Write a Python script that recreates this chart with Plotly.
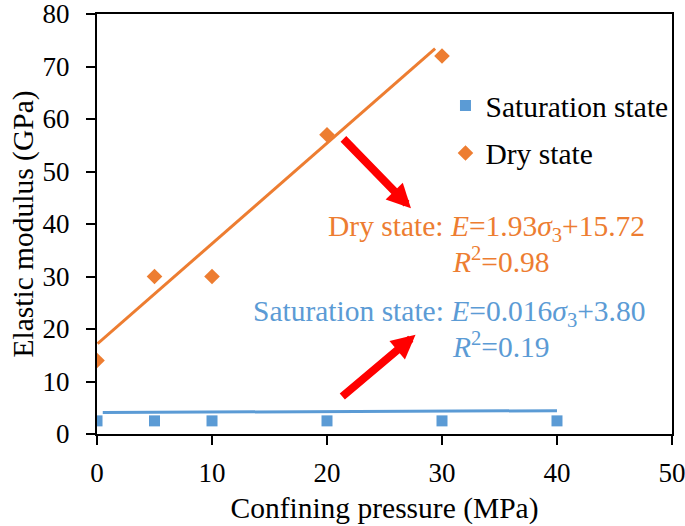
import plotly.graph_objects as go

# Data
pressure = [0, 5, 10, 20, 30, 40]
sat_modulus = [2.5, 2.5, 2.5, 2.5, 2.5, 2.5]
dry_pressure = [0, 5, 10, 20, 30]
dry_modulus = [14, 30, 30, 57, 72]

# Trend lines (as drawn in the figure)
sat_trend_x = [0.5, 40]
sat_trend_y = [4.1, 4.44]
dry_trend_x = [0.05, 29.4]
dry_trend_y = [17.2, 73.4]

x_ticks = [0, 10, 20, 30, 40, 50]
y_ticks = [0, 10, 20, 30, 40, 50, 60, 70, 80]

BLUE = "#5B9BD5"
ORANGE = "#ED7D31"
FONT = "Liberation Serif, Times New Roman, serif"
TXT = 29.5
TICK = 27

fig = go.Figure()

fig.add_trace(go.Scatter(x=sat_trend_x, y=sat_trend_y, mode="lines",
                         line=dict(color=BLUE, width=3), showlegend=False, hoverinfo="skip"))
fig.add_trace(go.Scatter(x=dry_trend_x, y=dry_trend_y, mode="lines",
                         line=dict(color=ORANGE, width=3), showlegend=False, hoverinfo="skip"))
fig.add_trace(go.Scatter(x=pressure, y=sat_modulus, mode="markers", name="Saturation state",
                         legendgroup="a",
                         marker=dict(symbol="square", size=11, color=BLUE)))
fig.add_trace(go.Scatter(x=dry_pressure, y=dry_modulus, mode="markers", name="Dry state",
                         legendgroup="b",
                         marker=dict(symbol="diamond", size=12, color=ORANGE)))

# Equation labels
fig.add_annotation(x=47.85, y=39.2, xref="x", yref="y", xanchor="right", yanchor="middle",
                   text="Dry state: <i>E</i>=1.93<i>σ</i><sub>3</sub>+15.72", showarrow=False,
                   font=dict(family=FONT, size=TXT, color=ORANGE))
fig.add_annotation(x=30.7, y=33.1, xref="x", yref="y", xanchor="left", yanchor="middle",
                   text="<i>R</i><sup>2</sup>=0.98", showarrow=False,
                   font=dict(family=FONT, size=TXT, color=ORANGE))
fig.add_annotation(x=47.85, y=23.1, xref="x", yref="y", xanchor="right", yanchor="middle",
                   text="Saturation state: <i>E</i>=0.016<i>σ</i><sub>3</sub>+3.80", showarrow=False,
                   font=dict(family=FONT, size=TXT, color=BLUE))
fig.add_annotation(x=30.7, y=16.9, xref="x", yref="y", xanchor="left", yanchor="middle",
                   text="<i>R</i><sup>2</sup>=0.19", showarrow=False,
                   font=dict(family=FONT, size=TXT, color=BLUE))

# Red arrows
fig.add_annotation(x=27.3, y=43.0, ax=21.3, ay=56.5, xref="x", yref="y", axref="x", ayref="y",
                   text="", showarrow=True, arrowhead=2, arrowsize=0.6, arrowwidth=8,
                   arrowcolor="#FF0000", standoff=0)
fig.add_annotation(x=27.7, y=18.9, ax=21.2, ay=6.9, xref="x", yref="y", axref="x", ayref="y",
                   text="", showarrow=True, arrowhead=2, arrowsize=0.6, arrowwidth=8,
                   arrowcolor="#FF0000", standoff=0)

axis_common = dict(showgrid=False, zeroline=False, showline=True, linecolor="black",
                   linewidth=2, mirror=True, ticks="outside", ticklen=9, tickwidth=2,
                   tickcolor="black", automargin=False, ticklabeloverflow="allow",
                   tickfont=dict(family=FONT, size=TICK, color="black"))

fig.update_xaxes(range=[-0.001, 50.001], tickvals=x_ticks, ticktext=[str(v) for v in x_ticks],
                 ticklabelstandoff=5,
                 title=dict(text="Confining pressure (MPa)", font=dict(family=FONT, size=TXT, color="black"),
                            standoff=10),
                 **axis_common)
fig.update_yaxes(range=[-0.001, 80.001], tickvals=y_ticks, ticktext=[str(v) for v in y_ticks],
                 ticklabelstandoff=11,
                 title=dict(text="Elastic modulus (GPa)", font=dict(family=FONT, size=TXT, color="black"),
                            standoff=0),
                 **axis_common)

fig.update_layout(
    width=685, height=526,
    margin=dict(l=97, r=12, t=14, b=92),
    paper_bgcolor="white", plot_bgcolor="white",
    font=dict(family=FONT, size=TICK, color="black"),
    legend=dict(x=0.605, y=0.843, xanchor="left", yanchor="top",
                font=dict(family=FONT, size=TXT, color="black"),
                bgcolor="rgba(0,0,0,0)", traceorder="grouped", tracegroupgap=6,
                itemwidth=30),
)

fig.write_html("out.html", config={"displayModeBar": False},
               post_script="document.body.style.margin='0px';")
